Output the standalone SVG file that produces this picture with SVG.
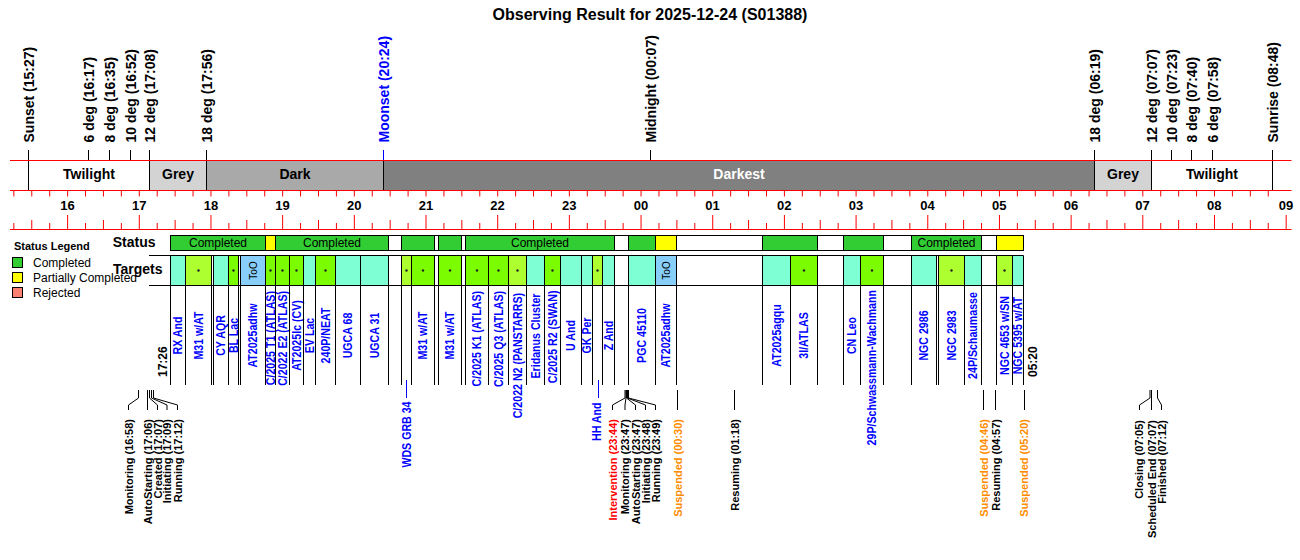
<svg xmlns="http://www.w3.org/2000/svg" width="1300" height="560" viewBox="0 0 1300 560">
<style>
text{font-family:"Liberation Sans",Arial,sans-serif;fill:#000;}
.title{font-size:16px;font-weight:bold;}
.tl{font-size:14px;font-weight:bold;}
.hr{font-size:13px;font-weight:bold;text-anchor:middle;}
.band{font-size:14px;font-weight:bold;text-anchor:middle;}
.red{stroke:#ff0000;stroke-width:1;fill:none;}
.blk{stroke:#000;stroke-width:1;fill:none;}
.blu{stroke:#0000ff;stroke-width:1;fill:none;}
.nm{font-size:12.5px;font-weight:bold;fill:#0000ff;}
.ev{font-size:11px;font-weight:bold;text-anchor:end;}
.tm{font-size:12px;font-weight:bold;}
.hd{font-size:14px;font-weight:bold;}
.lg{font-size:12px;}
.lgt{font-size:11px;font-weight:bold;}
.sl{font-size:12px;text-anchor:middle;}
.too{font-size:10px;text-anchor:middle;}
.box{stroke:#000;stroke-width:1;}
.cg{fill:#32cd32;}
.cy{fill:#ffff00;}
.cw{fill:#ffffff;}
.aq{fill:#7fffd4;}
.gy{fill:#adff2f;}
.ln{fill:#7cfc00;}
.sb{fill:#87cefa;}
.dot{fill:#222;}
</style>

<g id="title"><text class="title" x="650" y="20" text-anchor="middle">Observing Result for 2025-12-24 (S01388)</text></g>

<g id="sky-band">
<rect x="149.5" y="160.5" width="57" height="30" fill="#d3d3d3"/>
<rect x="206.5" y="160.5" width="177" height="30" fill="#a9a9a9"/>
<rect x="383.5" y="160.5" width="711" height="30" fill="#808080"/>
<rect x="1094.5" y="160.5" width="57" height="30" fill="#d3d3d3"/>
<text class="band" x="89" y="179">Twilight</text>
<text class="band" x="178" y="179">Grey</text>
<text class="band" x="295" y="179">Dark</text>
<text class="band" x="739" y="179" style="fill:#fff">Darkest</text>
<text class="band" x="1123" y="179">Grey</text>
<text class="band" x="1212" y="179">Twilight</text>
<path class="blk" d="M28.5,150V190.5M149.5,150V190.5M206.5,150V190.5M383.5,160V190.5M1094.5,150V190.5M1151.5,150V190.5M1272.5,150V190.5M88.5,150V160M109.5,150V160M130.5,150V160M650.5,150V160M1171.5,150V160M1191.5,150V160M1212.5,150V160"/>
<path class="blu" d="M383.5,150V160"/>
<path class="red" d="M10,160.5H1291.5M10,190.5H1291.5M10,229.5H1291.5"/>
<path class="red" d="M13.85,190.5v6m17.92,-6v6m17.92,-6v6m17.92,-6v6m17.92,-6v6m17.92,-6v6m17.92,-6v6m17.92,-6v6m17.92,-6v6m17.92,-6v6m17.92,-6v6m17.92,-6v6m17.92,-6v6m17.92,-6v6m17.92,-6v6m17.92,-6v6m17.92,-6v6m17.92,-6v6m17.92,-6v6m17.92,-6v6m17.92,-6v6m17.92,-6v6m17.92,-6v6m17.92,-6v6m17.92,-6v6m17.92,-6v6m17.92,-6v6m17.92,-6v6m17.92,-6v6m17.92,-6v6m17.92,-6v6m17.92,-6v6m17.92,-6v6m17.92,-6v6m17.92,-6v6m17.92,-6v6m17.92,-6v6m17.92,-6v6m17.92,-6v6m17.92,-6v6m17.92,-6v6m17.92,-6v6m17.92,-6v6m17.92,-6v6m17.92,-6v6m17.92,-6v6m17.92,-6v6m17.92,-6v6m17.92,-6v6m17.92,-6v6m17.92,-6v6m17.92,-6v6m17.92,-6v6m17.92,-6v6m17.92,-6v6m17.92,-6v6m17.92,-6v6m17.92,-6v6m17.92,-6v6m17.92,-6v6m17.92,-6v6m17.92,-6v6m17.92,-6v6m17.92,-6v6m17.92,-6v6m17.92,-6v6m17.92,-6v6m17.92,-6v6m17.92,-6v6m17.92,-6v6m17.92,-6v6"/>
<path class="red" d="M13.85,223v6.5m17.92,-9.5v9.5m17.92,-6.5v6.5m17.92,-14.5v14.5m17.92,-6.5v6.5m17.92,-9.5v9.5m17.92,-6.5v6.5m17.92,-14.5v14.5m17.92,-6.5v6.5m17.92,-9.5v9.5m17.92,-6.5v6.5m17.92,-14.5v14.5m17.92,-6.5v6.5m17.92,-9.5v9.5m17.92,-6.5v6.5m17.92,-14.5v14.5m17.92,-6.5v6.5m17.92,-9.5v9.5m17.92,-6.5v6.5m17.92,-14.5v14.5m17.92,-6.5v6.5m17.92,-9.5v9.5m17.92,-6.5v6.5m17.92,-14.5v14.5m17.92,-6.5v6.5m17.92,-9.5v9.5m17.92,-6.5v6.5m17.92,-14.5v14.5m17.92,-6.5v6.5m17.92,-9.5v9.5m17.92,-6.5v6.5m17.92,-14.5v14.5m17.92,-6.5v6.5m17.92,-9.5v9.5m17.92,-6.5v6.5m17.92,-14.5v14.5m17.92,-6.5v6.5m17.92,-9.5v9.5m17.92,-6.5v6.5m17.92,-14.5v14.5m17.92,-6.5v6.5m17.92,-9.5v9.5m17.92,-6.5v6.5m17.92,-14.5v14.5m17.92,-6.5v6.5m17.92,-9.5v9.5m17.92,-6.5v6.5m17.92,-14.5v14.5m17.92,-6.5v6.5m17.92,-9.5v9.5m17.92,-6.5v6.5m17.92,-14.5v14.5m17.92,-6.5v6.5m17.92,-9.5v9.5m17.92,-6.5v6.5m17.92,-14.5v14.5m17.92,-6.5v6.5m17.92,-9.5v9.5m17.92,-6.5v6.5m17.92,-14.5v14.5m17.92,-6.5v6.5m17.92,-9.5v9.5m17.92,-6.5v6.5m17.92,-14.5v14.5m17.92,-6.5v6.5m17.92,-9.5v9.5m17.92,-6.5v6.5m17.92,-14.5v14.5m17.92,-6.5v6.5m17.92,-9.5v9.5m17.92,-6.5v6.5m17.92,-14.5v14.5"/>
</g>

<g id="sky-events">
<text class="tl" transform="translate(33.5,142.5) rotate(-90)">Sunset (15:27)</text>
<text class="tl" transform="translate(93.5,142.5) rotate(-90)">6 deg (16:17)</text>
<text class="tl" transform="translate(114.5,142.5) rotate(-90)">8 deg (16:35)</text>
<text class="tl" transform="translate(135.5,142.5) rotate(-90)">10 deg (16:52)</text>
<text class="tl" transform="translate(154.5,142.5) rotate(-90)">12 deg (17:08)</text>
<text class="tl" transform="translate(211.5,142.5) rotate(-90)">18 deg (17:56)</text>
<text class="tl" transform="translate(388.5,142.5) rotate(-90)" style="fill:#0000ff">Moonset (20:24)</text>
<text class="tl" transform="translate(655.5,142.5) rotate(-90)">Midnight (00:07)</text>
<text class="tl" transform="translate(1099.5,142.5) rotate(-90)">18 deg (06:19)</text>
<text class="tl" transform="translate(1156.5,142.5) rotate(-90)">12 deg (07:07)</text>
<text class="tl" transform="translate(1176.5,142.5) rotate(-90)">10 deg (07:23)</text>
<text class="tl" transform="translate(1196.5,142.5) rotate(-90)">8 deg (07:40)</text>
<text class="tl" transform="translate(1217.5,142.5) rotate(-90)">6 deg (07:58)</text>
<text class="tl" transform="translate(1277.5,142.5) rotate(-90)">Sunrise (08:48)</text>
</g>

<g id="hours">
<text class="hr" x="67.6" y="209.5">16</text>
<text class="hr" x="139.3" y="209.5">17</text>
<text class="hr" x="210.9" y="209.5">18</text>
<text class="hr" x="282.6" y="209.5">19</text>
<text class="hr" x="354.3" y="209.5">20</text>
<text class="hr" x="425.9" y="209.5">21</text>
<text class="hr" x="497.6" y="209.5">22</text>
<text class="hr" x="569.3" y="209.5">23</text>
<text class="hr" x="641" y="209.5">00</text>
<text class="hr" x="712.6" y="209.5">01</text>
<text class="hr" x="784.3" y="209.5">02</text>
<text class="hr" x="856" y="209.5">03</text>
<text class="hr" x="927.6" y="209.5">04</text>
<text class="hr" x="999.3" y="209.5">05</text>
<text class="hr" x="1071" y="209.5">06</text>
<text class="hr" x="1142.6" y="209.5">07</text>
<text class="hr" x="1214.3" y="209.5">08</text>
<text class="hr" x="1286" y="209.5">09</text>
</g>

<g id="legend">
<text class="lgt" x="14" y="250">Status Legend</text>
<rect class="box cg" x="12.5" y="257.5" width="10" height="10"/>
<text class="lg" x="33" y="266.5">Completed</text>
<rect class="box cy" x="12.5" y="272.5" width="10" height="10"/>
<text class="lg" x="33" y="281.5">Partially Completed</text>
<rect class="box" x="12.5" y="287.5" width="10" height="10" fill="#fa8072"/>
<text class="lg" x="33" y="296.5">Rejected</text>
</g>

<g id="row-headers">
<text class="hd" x="155.5" y="246.5" text-anchor="end">Status</text>
<text class="hd" x="113" y="273.5">Targets</text>
</g>

<g id="status-row">
<rect class="box cg" x="170.5" y="235.5" width="95" height="15"/>
<rect class="box cy" x="265.5" y="235.5" width="10" height="15"/>
<rect class="box cg" x="275.5" y="235.5" width="113" height="15"/>
<rect class="box cw" x="388.5" y="235.5" width="13" height="15"/>
<rect class="box cg" x="401.5" y="235.5" width="33" height="15"/>
<rect class="box cw" x="434.5" y="235.5" width="4" height="15"/>
<rect class="box cg" x="438.5" y="235.5" width="23" height="15"/>
<rect class="box cw" x="461.5" y="235.5" width="4" height="15"/>
<rect class="box cg" x="465.5" y="235.5" width="149" height="15"/>
<rect class="box cw" x="614.5" y="235.5" width="14" height="15"/>
<rect class="box cg" x="628.5" y="235.5" width="27" height="15"/>
<rect class="box cy" x="655.5" y="235.5" width="21" height="15"/>
<rect class="box cw" x="676.5" y="235.5" width="86" height="15"/>
<rect class="box cg" x="762.5" y="235.5" width="55" height="15"/>
<rect class="box cw" x="817.5" y="235.5" width="26" height="15"/>
<rect class="box cg" x="843.5" y="235.5" width="40" height="15"/>
<rect class="box cw" x="883.5" y="235.5" width="28" height="15"/>
<rect class="box cg" x="911.5" y="235.5" width="70" height="15"/>
<rect class="box cw" x="981.5" y="235.5" width="15" height="15"/>
<rect class="box cy" x="996.5" y="235.5" width="27" height="15"/>
<text class="sl" x="218" y="247">Completed</text>
<text class="sl" x="332" y="247">Completed</text>
<text class="sl" x="540" y="247">Completed</text>
<text class="sl" x="946.5" y="247">Completed</text>
</g>

<g id="targets">
<g id="t1"><rect class="aq" x="170.5" y="255.5" width="15" height="30"/><text class="nm" transform="translate(182.3,335.5) rotate(-90) scale(0.85,1)" text-anchor="middle">RX And</text></g>
<g id="t2"><rect class="gy" x="185.5" y="255.5" width="26" height="30"/><circle class="dot" cx="198.5" cy="270.5" r="1.2"/><text class="nm" transform="translate(202.8,335.5) rotate(-90) scale(0.85,1)" text-anchor="middle">M31 w/AT</text></g>
<g id="t3"><rect class="aq" x="213.5" y="255.5" width="15" height="30"/><text class="nm" transform="translate(225.3,335.5) rotate(-90) scale(0.85,1)" text-anchor="middle">CY AQR</text></g>
<g id="t4"><rect class="ln" x="228.5" y="255.5" width="10" height="30"/><circle class="dot" cx="233.5" cy="270.5" r="1.2"/><text class="nm" transform="translate(237.8,335.5) rotate(-90) scale(0.85,1)" text-anchor="middle">BL Lac</text></g>
<g id="t5"><rect class="sb" x="240.5" y="255.5" width="25" height="30"/><text class="too" transform="translate(256.5,270.5) rotate(-90)">ToO</text><text class="nm" transform="translate(257.3,335.5) rotate(-90) scale(0.85,1)" text-anchor="middle">AT2025adhw</text></g>
<g id="t6"><rect class="ln" x="265.5" y="255.5" width="10" height="30"/><circle class="dot" cx="270.5" cy="270.5" r="1.2"/><text class="nm" transform="translate(274.8,291) rotate(-90) scale(0.85,1)" text-anchor="end">C/2025 T1 (ATLAS)</text></g>
<g id="t7"><rect class="ln" x="275.5" y="255.5" width="14" height="30"/><circle class="dot" cx="282.5" cy="270.5" r="1.2"/><text class="nm" transform="translate(286.8,291) rotate(-90) scale(0.85,1)" text-anchor="end">C/2022 E2 (ATLAS)</text></g>
<g id="t8"><rect class="ln" x="289.5" y="255.5" width="14" height="30"/><circle class="dot" cx="296.5" cy="270.5" r="1.2"/><text class="nm" transform="translate(300.8,335.5) rotate(-90) scale(0.85,1)" text-anchor="middle">AT2025lc (CV)</text></g>
<g id="t9"><rect class="aq" x="303.5" y="255.5" width="12" height="30"/><text class="nm" transform="translate(313.8,335.5) rotate(-90) scale(0.85,1)" text-anchor="middle">EV Lac</text></g>
<g id="t10"><rect class="ln" x="315.5" y="255.5" width="20" height="30"/><circle class="dot" cx="325.5" cy="270.5" r="1.2"/><text class="nm" transform="translate(329.8,335.5) rotate(-90) scale(0.85,1)" text-anchor="middle">240P/NEAT</text></g>
<g id="t11"><rect class="aq" x="335.5" y="255.5" width="25" height="30"/><text class="nm" transform="translate(352.3,335.5) rotate(-90) scale(0.85,1)" text-anchor="middle">UGCA 68</text></g>
<g id="t12"><rect class="aq" x="360.5" y="255.5" width="28" height="30"/><text class="nm" transform="translate(378.8,335.5) rotate(-90) scale(0.85,1)" text-anchor="middle">UGCA 31</text></g>
<g id="t13"><rect class="gy" x="401.5" y="255.5" width="10" height="30"/><circle class="dot" cx="406.5" cy="270.5" r="1.2"/><text class="nm" transform="translate(411,401.5) rotate(-90) scale(0.85,1)" text-anchor="end">WDS GRB 34</text></g>
<g id="t14"><rect class="ln" x="411.5" y="255.5" width="23" height="30"/><circle class="dot" cx="423" cy="270.5" r="1.2"/><text class="nm" transform="translate(427.3,335.5) rotate(-90) scale(0.85,1)" text-anchor="middle">M31 w/AT</text></g>
<g id="t15"><rect class="ln" x="438.5" y="255.5" width="23" height="30"/><circle class="dot" cx="450" cy="270.5" r="1.2"/><text class="nm" transform="translate(454.3,335.5) rotate(-90) scale(0.85,1)" text-anchor="middle">M31 w/AT</text></g>
<g id="t16"><rect class="ln" x="465.5" y="255.5" width="23" height="30"/><circle class="dot" cx="477" cy="270.5" r="1.2"/><text class="nm" transform="translate(481.3,291) rotate(-90) scale(0.85,1)" text-anchor="end">C/2025 K1 (ATLAS)</text></g>
<g id="t17"><rect class="ln" x="488.5" y="255.5" width="20" height="30"/><circle class="dot" cx="498.5" cy="270.5" r="1.2"/><text class="nm" transform="translate(502.8,291) rotate(-90) scale(0.85,1)" text-anchor="end">C/2025 Q3 (ATLAS)</text></g>
<g id="t18"><rect class="gy" x="508.5" y="255.5" width="18" height="30"/><circle class="dot" cx="517.5" cy="270.5" r="1.2"/><text class="nm" transform="translate(521.8,293) rotate(-90) scale(0.85,1)" text-anchor="end">C/2022 N2 (PANSTARRS)</text></g>
<g id="t19"><rect class="aq" x="526.5" y="255.5" width="18" height="30"/><text class="nm" transform="translate(539.8,336) rotate(-90) scale(0.85,1)" text-anchor="middle">Eridanus Cluster</text></g>
<g id="t20"><rect class="ln" x="544.5" y="255.5" width="16" height="30"/><circle class="dot" cx="552.5" cy="270.5" r="1.2"/><text class="nm" transform="translate(556.8,290.5) rotate(-90) scale(0.85,1)" text-anchor="end">C/2025 R2 (SWAN)</text></g>
<g id="t21"><rect class="aq" x="560.5" y="255.5" width="21" height="30"/><text class="nm" transform="translate(575.3,335.5) rotate(-90) scale(0.85,1)" text-anchor="middle">U And</text></g>
<g id="t22"><rect class="aq" x="581.5" y="255.5" width="11" height="30"/><text class="nm" transform="translate(591.3,335.5) rotate(-90) scale(0.85,1)" text-anchor="middle">GK Per</text></g>
<g id="t23"><rect class="gy" x="592.5" y="255.5" width="10" height="30"/><circle class="dot" cx="597.5" cy="270.5" r="1.2"/><text class="nm" transform="translate(601,402.5) rotate(-90) scale(0.85,1)" text-anchor="end">HH And</text></g>
<g id="t24"><rect class="aq" x="602.5" y="255.5" width="12" height="30"/><text class="nm" transform="translate(612.8,335.5) rotate(-90) scale(0.85,1)" text-anchor="middle">Z And</text></g>
<g id="t25"><rect class="aq" x="628.5" y="255.5" width="27" height="30"/><text class="nm" transform="translate(646.3,335.5) rotate(-90) scale(0.85,1)" text-anchor="middle">PGC 45110</text></g>
<g id="t26"><rect class="sb" x="655.5" y="255.5" width="21" height="30"/><text class="too" transform="translate(669.5,270.5) rotate(-90)">ToO</text><text class="nm" transform="translate(670.3,335.5) rotate(-90) scale(0.85,1)" text-anchor="middle">AT2025adhw</text></g>
<g id="t27"><rect class="aq" x="762.5" y="255.5" width="28" height="30"/><text class="nm" transform="translate(780.8,335.5) rotate(-90) scale(0.85,1)" text-anchor="middle">AT2025agqu</text></g>
<g id="t28"><rect class="ln" x="790.5" y="255.5" width="27" height="30"/><circle class="dot" cx="804" cy="270.5" r="1.2"/><text class="nm" transform="translate(808.3,335.5) rotate(-90) scale(0.85,1)" text-anchor="middle">3I/ATLAS</text></g>
<g id="t29"><rect class="aq" x="843.5" y="255.5" width="17" height="30"/><text class="nm" transform="translate(856.3,335.5) rotate(-90) scale(0.85,1)" text-anchor="middle">CN Leo</text></g>
<g id="t30"><rect class="ln" x="860.5" y="255.5" width="23" height="30"/><circle class="dot" cx="872" cy="270.5" r="1.2"/><text class="nm" transform="translate(876.3,290) rotate(-90) scale(0.85,1)" text-anchor="end">29P/Schwassmann-Wachmann</text></g>
<g id="t31"><rect class="aq" x="911.5" y="255.5" width="25" height="30"/><text class="nm" transform="translate(928.3,335.5) rotate(-90) scale(0.85,1)" text-anchor="middle">NGC 2986</text></g>
<g id="t32"><rect class="gy" x="938.5" y="255.5" width="26" height="30"/><circle class="dot" cx="951.5" cy="270.5" r="1.2"/><text class="nm" transform="translate(955.8,335.5) rotate(-90) scale(0.85,1)" text-anchor="middle">NGC 2983</text></g>
<g id="t33"><rect class="aq" x="964.5" y="255.5" width="17" height="30"/><text class="nm" transform="translate(977.3,335.5) rotate(-90) scale(0.85,1)" text-anchor="middle">24P/Schaumasse</text></g>
<g id="t34"><rect class="gy" x="996.5" y="255.5" width="16" height="30"/><circle class="dot" cx="1004.5" cy="270.5" r="1.2"/><text class="nm" transform="translate(1008.8,335.5) rotate(-90) scale(0.85,1)" text-anchor="middle">NGC 4653 w/SN</text></g>
<g id="t35"><rect class="aq" x="1012.5" y="255.5" width="11" height="30"/><text class="nm" transform="translate(1022.3,335.5) rotate(-90) scale(0.85,1)" text-anchor="middle">NGC 5395 w/AT</text></g>
</g>

<g id="grid">
<path class="blk" d="M149,255.5H1023.5M149,285.5H1023.5"/>
<path class="blk" d="M170.5,255.5V385M185.5,255.5V385M211.5,255.5V385M213.5,255.5V385M228.5,255.5V385M238.5,255.5V385M240.5,255.5V385M265.5,255.5V385M275.5,255.5V385M289.5,255.5V385M303.5,255.5V385M315.5,255.5V385M335.5,255.5V385M360.5,255.5V385M388.5,255.5V385M401.5,255.5V385M411.5,255.5V385M434.5,255.5V385M438.5,255.5V385M461.5,255.5V385M465.5,255.5V385M488.5,255.5V385M508.5,255.5V385M526.5,255.5V385M544.5,255.5V385M560.5,255.5V385M581.5,255.5V385M592.5,255.5V385M602.5,255.5V385M614.5,255.5V385M628.5,255.5V385M655.5,255.5V385M676.5,255.5V385M762.5,255.5V385M790.5,255.5V385M817.5,255.5V385M843.5,255.5V385M860.5,255.5V385M883.5,255.5V385M911.5,255.5V385M936.5,255.5V385M938.5,255.5V385M964.5,255.5V385M981.5,255.5V385M996.5,255.5V385M1012.5,255.5V385M1023.5,255.5V385"/>
<path class="blu" d="M406.5,380V398M598.5,380V398"/>
<text class="tm" transform="translate(166.5,377) rotate(-90)">17:26</text>
<text class="tm" transform="translate(1036.5,377) rotate(-90)">05:20</text>
</g>

<g id="connectors">
<path class="blk" d="M138.5,390V398L128.5,405V410M147.5,390V410M149.5,390V398L157.5,405V410M151.5,390V398L167,405V410M153.5,390V398L177.5,405V410"/>
<path class="blk" d="M625,390V398L612.5,405V410M626,390V398L625,405V410M626.5,390V398L635.5,405V410M627.5,390V398L645.5,405V410M628.5,390V398L655.5,405V410"/>
<path class="blk" d="M677.5,390V410M734.5,390V410M983.5,390V410M995.5,390V410M1024.5,390V410"/>
<path class="blk" d="M1150,390V398L1139.5,405V410M1151.5,390V410M1157.5,390V398L1161.5,405V410"/>
</g>

<g id="events">
<text class="ev" transform="translate(132.7,419) rotate(-90)">Monitoring (16:58)</text>
<text class="ev" transform="translate(151.5,419) rotate(-90)">AutoStarting (17:06)</text>
<text class="ev" transform="translate(161.5,419) rotate(-90)">Created (17:07)</text>
<text class="ev" transform="translate(171,419) rotate(-90)">Initiating (17:09)</text>
<text class="ev" transform="translate(181.5,419) rotate(-90)">Running (17:12)</text>
<text class="ev" transform="translate(616.5,419) rotate(-90)" style="fill:#ff0000">Intervention (23:44)</text>
<text class="ev" transform="translate(629,419) rotate(-90)">Monitoring (23:47)</text>
<text class="ev" transform="translate(639.5,419) rotate(-90)">AutoStarting (23:47)</text>
<text class="ev" transform="translate(649.5,419) rotate(-90)">Initiating (23:48)</text>
<text class="ev" transform="translate(659.5,419) rotate(-90)">Running (23:49)</text>
<text class="ev" transform="translate(681.5,419) rotate(-90)" style="fill:#ff8c00">Suspended (00:30)</text>
<text class="ev" transform="translate(738.5,419) rotate(-90)">Resuming (01:18)</text>
<text class="ev" transform="translate(987.5,419) rotate(-90)" style="fill:#ff8c00">Suspended (04:46)</text>
<text class="ev" transform="translate(999.5,419) rotate(-90)">Resuming (04:57)</text>
<text class="ev" transform="translate(1028.3,419) rotate(-90)" style="fill:#ff8c00">Suspended (05:20)</text>
<text class="ev" transform="translate(1143.3,420) rotate(-90)">Closing (07:05)</text>
<text class="ev" transform="translate(1155.5,420) rotate(-90)">Scheduled End (07:07)</text>
<text class="ev" transform="translate(1165.5,420) rotate(-90)">Finished (07:12)</text>
</g>
</svg>
